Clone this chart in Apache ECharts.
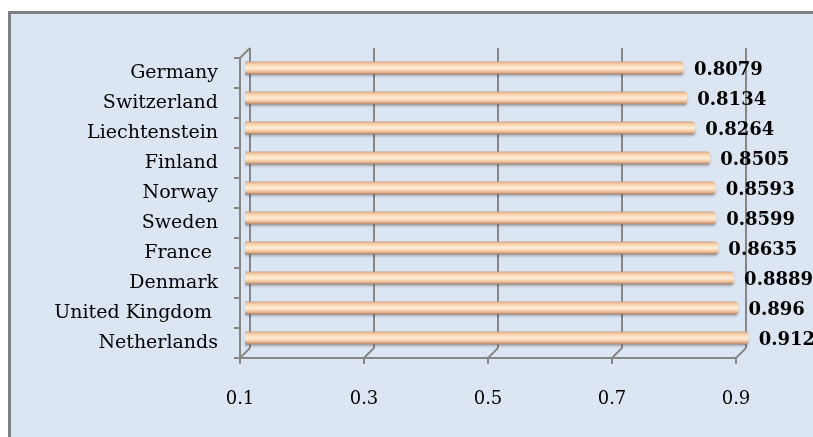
<!DOCTYPE html>
<html>
<head>
<meta charset="utf-8">
<style>
  html, body { margin: 0; padding: 0; background: #ffffff; overflow: hidden; }
  #wrap { position: relative; width: 813px; height: 437px; overflow: hidden; }
  #frame { position: absolute; left: 8px; top: 11px; width: 900px; height: 500px;
           background: #dce6f2; border-left: 3px solid #808080; border-top: 3px solid #808080; }
  #chart { position: absolute; left: 0; top: 0; width: 813px; height: 437px; }
</style>
<script src="https://cdn.jsdelivr.net/npm/echarts@6/dist/echarts.min.js"></script>
</head>
<body>
<div id="wrap">
  <div id="frame"></div>
  <div id="chart"></div>
</div>
<script>
// Countries, top to bottom
const countries = ['Germany', 'Switzerland', 'Liechtenstein', 'Finland', 'Norway',
                   'Sweden', 'France ', 'Denmark', 'United Kingdom ', 'Netherlands'];
// Index value per country
const scores = [0.8079, 0.8134, 0.8264, 0.8505, 0.8593,
                0.8599, 0.8635, 0.8889, 0.896, 0.9125];
// Value axis range and step
const axisMin = 0.1;
const axisMax = 0.9;
const axisStep = 0.2;

// Pseudo-3D layout: front plane carries the axes, back wall carries the gridlines,
// bars sit half-way in depth.
const FRONT = { left: 240, top: 58, width: 496, height: 300 };
const DEPTH = 10;
// The bar plane runs a little past the last tick so the longest bar is not cut off.
const barMax = 0.95;
const gridAt = (d, width) => ({ left: FRONT.left + d, top: FRONT.top - d,
                                width: width || FRONT.width, height: FRONT.height });

const serif = 'DejaVu Serif';
const axisGray = '#868686';

const chart = echarts.init(document.getElementById('chart'), null, { renderer: 'canvas' });

const valueAxis = (gridIndex, extra) => Object.assign({
  type: 'value', gridIndex, min: axisMin, max: axisMax, interval: axisStep,
  axisLine: { show: false }, axisTick: { show: false },
  axisLabel: { show: false }, splitLine: { show: false }
}, extra);
const catAxis = (gridIndex, extra) => Object.assign({
  type: 'category', gridIndex, data: countries, inverse: true,
  axisLine: { show: false }, axisTick: { show: false },
  axisLabel: { show: false }, splitLine: { show: false }
}, extra);

const barFill = new echarts.graphic.LinearGradient(0, 0, 0, 1, [
  { offset: 0.00, color: '#c99c80' },
  { offset: 0.12, color: '#f0c39e' },
  { offset: 0.30, color: '#fcdcb8' },
  { offset: 0.50, color: '#ffeedb' },
  { offset: 0.68, color: '#fad3ad' },
  { offset: 0.85, color: '#dfae88' },
  { offset: 1.00, color: '#977865' }
]);

const barPlaneWidth = FRONT.width * (barMax - axisMin) / (axisMax - axisMin);

chart.setOption({
  backgroundColor: 'transparent',
  animation: false,
  grid: [gridAt(0), gridAt(DEPTH / 2, barPlaneWidth), gridAt(DEPTH)],
  xAxis: [
    valueAxis(0, {
      axisLine: { show: true, onZero: false, lineStyle: { color: axisGray, width: 2 } },
      axisTick: { show: true, length: 6, lineStyle: { color: axisGray, width: 2 } },
      axisLabel: { show: true, margin: 32, color: '#000', fontFamily: serif, fontSize: 18,
                   formatter: (v) => v.toFixed(1) }
    }),
    valueAxis(1, { max: barMax, interval: null }),
    valueAxis(2, { splitLine: { show: true, lineStyle: { color: axisGray, width: 2 } } })
  ],
  yAxis: [
    catAxis(0, {
      axisLine: { show: true, lineStyle: { color: axisGray, width: 2 } },
      axisTick: { show: true, length: 6, lineStyle: { color: axisGray, width: 2 } },
      axisLabel: { show: true, margin: 22, color: '#000', fontFamily: serif, fontSize: 19 }
    }),
    catAxis(1),
    catAxis(2)
  ],
  series: [{
    type: 'bar',
    xAxisIndex: 1,
    yAxisIndex: 1,
    data: scores,
    barWidth: 13,
    clip: true,
    itemStyle: {
      color: barFill,
      borderRadius: [0, 4, 4, 0],
      shadowColor: 'rgba(60,60,80,0.28)',
      shadowBlur: 2,
      shadowOffsetY: 2
    },
    label: {
      show: true,
      position: 'right',
      distance: 10,
      offset: [0, 2],
      color: '#000',
      fontFamily: serif,
      fontWeight: 'bold',
      fontSize: 18,
      formatter: (p) => String(p.value)
    }
  }]
});

// Floor edges and the top corner joining the front axis to the back wall.
function drawDepthEdges() {
  const els = [];
  const frontBottom = FRONT.top + FRONT.height;
  const backBottom = frontBottom - DEPTH;
  const tickCount = Math.round((axisMax - axisMin) / axisStep);
  for (let i = 0; i <= tickCount; i++) {
    const v = axisMin + i * axisStep;
    const xf = chart.convertToPixel({ xAxisIndex: 0 }, v);
    const xb = chart.convertToPixel({ xAxisIndex: 2 }, v);
    els.push({
      type: 'line', silent: true, z: 1,
      shape: { x1: xb, y1: backBottom, x2: xf, y2: frontBottom },
      style: { stroke: axisGray, lineWidth: 2 }
    });
  }
  const xf0 = chart.convertToPixel({ xAxisIndex: 0 }, axisMin);
  const xb0 = chart.convertToPixel({ xAxisIndex: 2 }, axisMin);
  els.push({
    type: 'line', silent: true, z: 1,
    shape: { x1: xf0, y1: FRONT.top, x2: xb0, y2: FRONT.top - DEPTH },
    style: { stroke: axisGray, lineWidth: 2 }
  });
  chart.setOption({ graphic: { elements: els } });
}
drawDepthEdges();
</script>
</body>
</html>
